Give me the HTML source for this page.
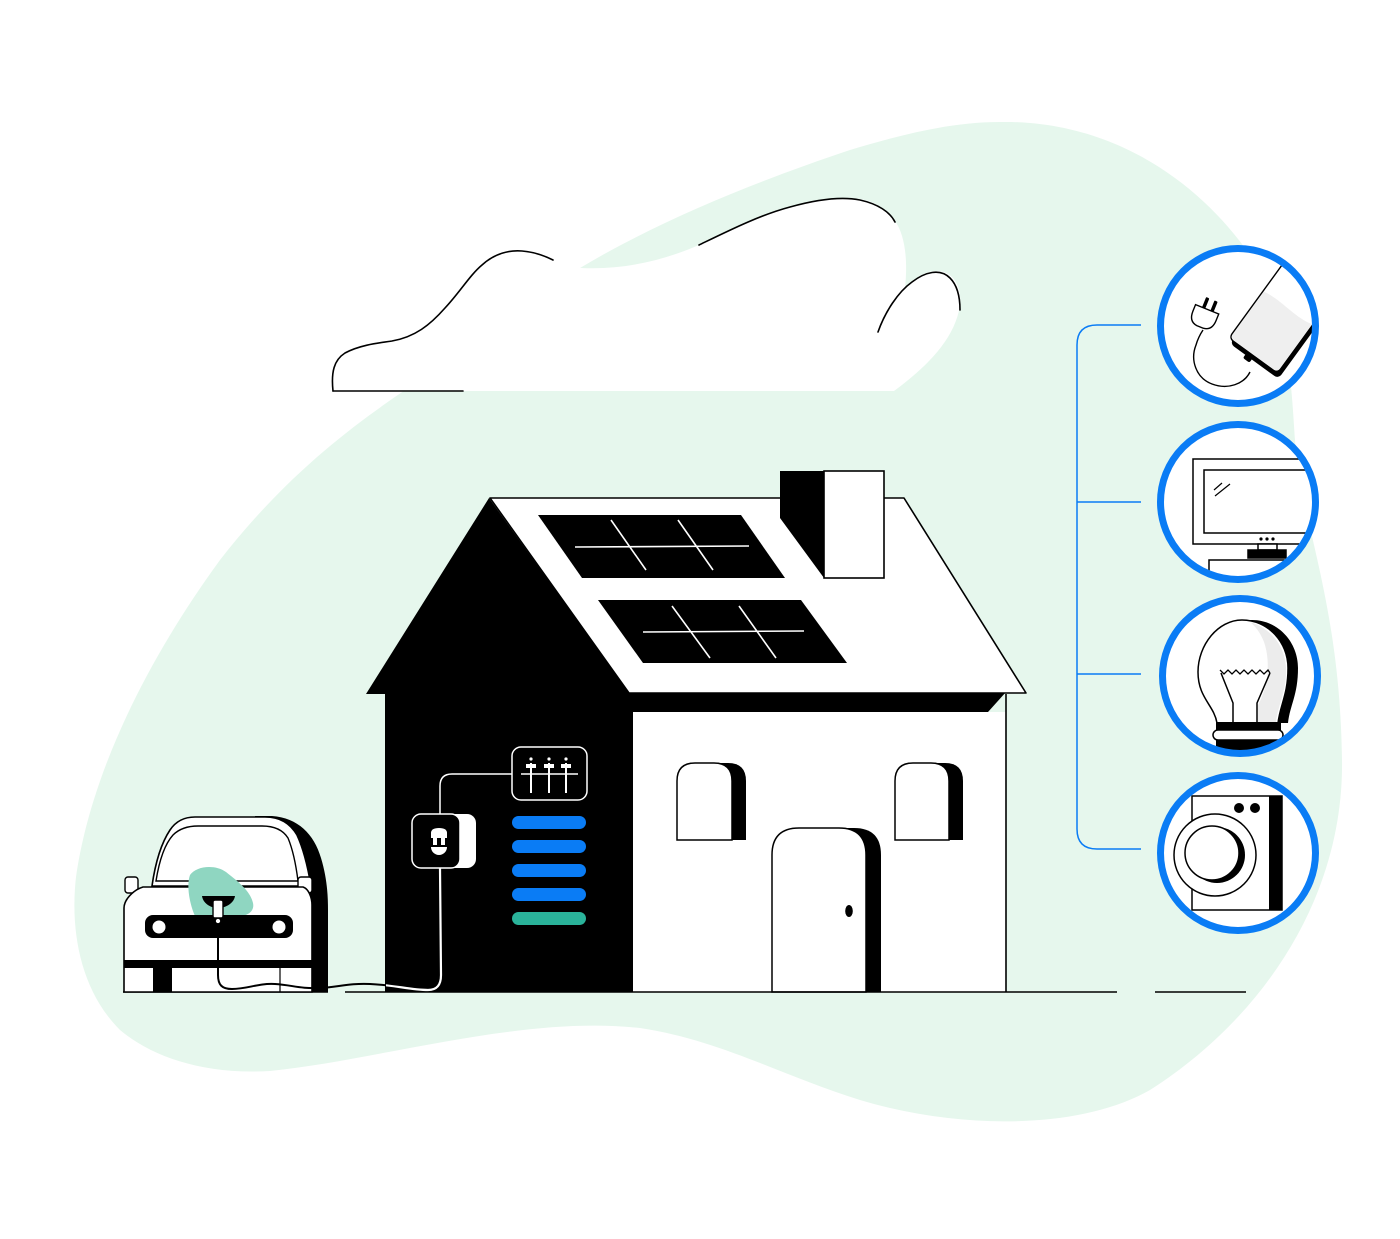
<!DOCTYPE html>
<html><head><meta charset="utf-8"><style>html,body{margin:0;padding:0;background:#fff}svg{display:block}</style></head>
<body>
<svg width="1400" height="1239" viewBox="0 0 1400 1239" xmlns="http://www.w3.org/2000/svg">
<defs>
<clipPath id="c1"><circle cx="1238" cy="326" r="75"/></clipPath>
<clipPath id="c2"><circle cx="1238" cy="502" r="75"/></clipPath>
<clipPath id="c3"><circle cx="1240" cy="676" r="75"/></clipPath>
<clipPath id="c4"><circle cx="1238" cy="853" r="75"/></clipPath>
<clipPath id="wall"><rect x="386" y="700" width="246" height="300"/></clipPath>
</defs>

<!-- background blob -->
<path d="M1000,122 C1120,120 1210,190 1260,270 C1290,320 1292,400 1295,440 C1300,520 1340,600 1342,760 C1344,900 1260,1020 1150,1090 C1080,1130 960,1130 860,1100 C780,1075 720,1040 640,1028 C520,1015 380,1060 270,1071 C200,1075 150,1055 120,1030 C80,990 70,930 76,877 C90,780 140,670 220,560 C290,470 360,420 420,380 L580,268 C660,220 760,180 850,150 C900,135 950,122 1000,122 Z" fill="#e6f7ed"/>

<!-- cloud -->
<path d="M333,391 L894,391 C925,368 955,340 960,305 C962,285 952,271 937,271 C925,271 915,278 905,288 C908,260 905,235 895,221 C880,200 860,197 838,198 C790,200 740,225 699,245 C660,262 620,270 581,268 L553,260 C540,252 530,250 520,251 C500,252 490,262 480,277 C455,315 430,340 400,345 C370,350 345,355 338,368 C333,378 333,385 333,391 Z" fill="#fff"/>
<g fill="none" stroke="#000" stroke-width="1.6" stroke-linecap="round">
<path d="M333,391 L463,391"/>
<path d="M333,391 C331,372 334,360 345,353 C360,345 378,343 392,341 C415,337 430,325 445,308 C460,292 470,275 482,265 C495,253 510,250 522,251 C535,252 545,256 553,260"/>
<path d="M699,245 C730,230 760,215 790,207 C815,200 840,196 860,200 C878,204 890,212 895,222"/>
<path d="M878,332 C885,312 898,292 912,282 C925,272 940,268 950,278 C958,286 960,298 960,310"/>
</g>

<!-- house -->
<polygon points="489,498 366,694 385,694 385,992 633,992 633,693 629,693" fill="#000"/>
<polygon points="629,692 1006,692 988,712 633,712" fill="#000"/>
<rect x="633" y="712" width="373" height="280" fill="#fff"/>
<line x1="1006" y1="694" x2="1006" y2="992" stroke="#000" stroke-width="1.6"/>
<polygon points="490,498 904,498 1026,693 629,693" fill="#fff" stroke="#000" stroke-width="1.6" stroke-linejoin="round"/>
<!-- chimney -->
<polygon points="780,471 824,471 824,578 780,518" fill="#000"/>
<rect x="824" y="471" width="60" height="107" fill="#fff" stroke="#000" stroke-width="1.6"/>
<!-- solar panels -->
<polygon points="538,515 741,515 785,578 582,578" fill="#000"/>
<g stroke="#fff" stroke-width="1.6">
<line x1="575" y1="547" x2="749" y2="546"/>
<line x1="611" y1="520" x2="646" y2="570"/>
<line x1="678" y1="520" x2="713" y2="570"/>
</g>
<polygon points="598,600 801,600 847,663 643,663" fill="#000"/>
<g stroke="#fff" stroke-width="1.6">
<line x1="643" y1="632" x2="804" y2="631"/>
<line x1="672" y1="606" x2="710" y2="658"/>
<line x1="739" y1="606" x2="776" y2="658"/>
</g>
<!-- windows -->
<path d="M691,840 L691,781 Q691,763 709,763 L728,763 Q746,763 746,781 L746,840 Z" fill="#000"/>
<path d="M677,840 L677,781 Q677,763 695,763 L714,763 Q732,763 732,781 L732,840 Z" fill="#fff" stroke="#000" stroke-width="1.5"/>
<path d="M909,840 L909,781 Q909,763 927,763 L945,763 Q963,763 963,781 L963,840 Z" fill="#000"/>
<path d="M895,840 L895,781 Q895,763 913,763 L931,763 Q949,763 949,781 L949,840 Z" fill="#fff" stroke="#000" stroke-width="1.5"/>
<!-- door -->
<path d="M786,992 L786,855 Q786,828 813,828 L854,828 Q881,828 881,855 L881,992 Z" fill="#000"/>
<path d="M772,992 L772,855 Q772,828 799,828 L839,828 Q866,828 866,855 L866,992 Z" fill="#fff" stroke="#000" stroke-width="1.5"/>
<ellipse cx="849" cy="911" rx="3.8" ry="6" fill="#000"/>

<!-- ground -->
<g stroke="#000" stroke-width="1.6">
<line x1="345" y1="992" x2="1117" y2="992"/>
<line x1="1155" y1="992" x2="1246" y2="992"/>
<line x1="123" y1="992" x2="328" y2="992"/>
</g>

<!-- control box -->
<path d="M512,774 L452,774 Q440,774 440,786 L440,814" fill="none" stroke="#fff" stroke-width="1.5"/>
<rect x="512" y="747" width="75" height="53" rx="9" fill="#000" stroke="#fff" stroke-width="1.5"/>
<g stroke="#fff" stroke-width="2" fill="#fff">
<line x1="521" y1="774" x2="578" y2="774" stroke-width="1.5"/>
<line x1="531" y1="763" x2="531" y2="793"/>
<line x1="549" y1="763" x2="549" y2="793"/>
<line x1="566" y1="763" x2="566" y2="793"/>
<rect x="526" y="764" width="10" height="4" stroke="none"/>
<rect x="544" y="764" width="10" height="4" stroke="none"/>
<rect x="561" y="764" width="10" height="4" stroke="none"/>
<circle cx="531" cy="759" r="1.6" stroke="none"/>
<circle cx="549" cy="759" r="1.6" stroke="none"/>
<circle cx="566" cy="759" r="1.6" stroke="none"/>
</g>
<!-- battery bars -->
<rect x="512" y="816" width="74" height="13" rx="6.5" fill="#0a7cf5"/>
<rect x="512" y="840" width="74" height="13" rx="6.5" fill="#0a7cf5"/>
<rect x="512" y="864" width="74" height="13" rx="6.5" fill="#0a7cf5"/>
<rect x="512" y="888" width="74" height="13" rx="6.5" fill="#0a7cf5"/>
<rect x="512" y="912" width="74" height="13" rx="6.5" fill="#2ab39a"/>

<!-- car -->
<path d="M255,816 L272,816 C298,818 314,834 321,858 C327,878 328,895 328,910 L328,992 L290,992 Z" fill="#000"/>
<path d="M152,886 C155,865 160,845 170,830 C176,821 184,817 195,817 L265,817 C280,817 290,823 297,835 C304,850 308,868 311,886 Z" fill="#fff" stroke="#000" stroke-width="1.6"/>
<path d="M156,881 C159,862 164,845 173,835 C179,829 187,826 198,826 L262,826 C274,826 283,830 288,838 C293,850 296,865 298,881 Z" fill="#fff" stroke="#000" stroke-width="1.4"/>
<rect x="125" y="877" width="13" height="16" rx="3" fill="#fff" stroke="#000" stroke-width="1.4"/>
<rect x="298" y="877" width="14" height="16" rx="3" fill="#fff" stroke="#000" stroke-width="1.4"/>
<path d="M124,992 L124,908 C124,900 133,890 143,887 L303,887 C309,889 312,898 312,905 L312,992 Z" fill="#fff" stroke="#000" stroke-width="1.6"/>
<path d="M190,875 C196,866 215,864 226,872 C236,880 250,890 253,903 C255,912 246,917 236,916 L195,916 C190,905 186,886 190,875 Z" fill="#8fd6c1"/>
<rect x="145" y="915" width="148" height="23" rx="8" fill="#000"/>
<circle cx="159" cy="927" r="6.5" fill="#fff"/>
<circle cx="279" cy="927" r="6.5" fill="#fff"/>
<rect x="124" y="960" width="188" height="8" fill="#000"/>
<rect x="153" y="968" width="19" height="24" fill="#000"/>
<line x1="280" y1="968" x2="280" y2="992" stroke="#000" stroke-width="1.2"/>
<path d="M202,896 L235,896 C234,903 226,908 218,908 C210,908 203,903 202,896 Z" fill="#000"/>
<rect x="213" y="900" width="10" height="18" rx="2" fill="#fff" stroke="#000" stroke-width="1.4"/>
<circle cx="218" cy="921" r="2.8" fill="#fff" stroke="#000" stroke-width="1.3"/>

<!-- cable -->
<path id="cab" d="M218,924 L218,975 C218,985 222,989 232,989 C248,989 258,983 275,984 C292,985 300,989 320,988 C338,987 350,983 370,984 C395,985 410,990 428,990 C437,990 441,985 441,975 L440,868" fill="none" stroke="#000" stroke-width="2"/>
<path d="M218,924 L218,975 C218,985 222,989 232,989 C248,989 258,983 275,984 C292,985 300,989 320,988 C338,987 350,983 370,984 C395,985 410,990 428,990 C437,990 441,985 441,975 L440,868" fill="none" stroke="#fff" stroke-width="2.2" clip-path="url(#wall)"/>

<!-- plug box -->
<rect x="420" y="814" width="56" height="54" rx="9" fill="#fff"/>
<rect x="412" y="814" width="48" height="54" rx="9" fill="#000" stroke="#fff" stroke-width="1.5"/>
<path d="M431,838 L431,833 Q431,828 439,828 Q447,828 447,833 L447,838 Z" fill="#fff"/>
<rect x="433" y="837" width="4" height="8" fill="#fff"/>
<rect x="441" y="837" width="4" height="8" fill="#fff"/>
<path d="M431,847 L447,847 A8,8 0 0 1 431,847 Z" fill="#fff"/>

<!-- connectors -->
<g fill="none" stroke="#0a7cf5" stroke-width="1.5">
<path d="M1141,325 L1097,325 Q1077,325 1077,345 L1077,829 Q1077,849 1097,849 L1141,849"/>
<line x1="1077" y1="502" x2="1141" y2="502"/>
<line x1="1077" y1="674" x2="1141" y2="674"/>
</g>

<!-- circle 1: phone -->
<circle cx="1238" cy="326" r="77" fill="#fff"/>
<g clip-path="url(#c1)">
<g transform="translate(1229,338) rotate(36)">
<rect x="4" y="-106" width="60" height="110" rx="5" fill="#000"/>
<rect x="0" y="-110" width="60" height="110" rx="5" fill="#fff" stroke="#000" stroke-width="1.4"/>
<path d="M1,-58 C20,-62 40,-55 59,-60 L59,-5 Q59,-1 55,-1 L5,-1 Q1,-1 1,-5 Z" fill="#efefef"/>
<rect x="23" y="0" width="8" height="8" rx="2" fill="#000"/>
</g>
<path d="M1250,372 C1244,384 1228,390 1212,384 C1196,378 1190,360 1196,345 C1198,338 1201,333 1203,330" fill="none" stroke="#000" stroke-width="1.4"/>
<g transform="translate(1202,318) rotate(22)">
<rect x="-4" y="-21" width="3.5" height="12" rx="1" fill="#000"/>
<rect x="5" y="-21" width="3.5" height="12" rx="1" fill="#000"/>
<path d="M-11,-10 L14,-10 L14,-3 Q14,8 5,9 L-2,9 Q-11,8 -11,-3 Z" fill="#fff" stroke="#000" stroke-width="1.4"/>
</g>
</g>
<circle cx="1238" cy="326" r="77.5" fill="none" stroke="#0a7cf5" stroke-width="7"/>

<!-- circle 2: TV -->
<circle cx="1238" cy="502" r="77" fill="#fff"/>
<g clip-path="url(#c2)" stroke="#000" stroke-width="1.5">
<rect x="1193" y="459" width="140" height="85" fill="#fff"/>
<rect x="1204" y="470" width="130" height="63" fill="#fff"/>
<line x1="1214" y1="490" x2="1222" y2="483" stroke-width="1.2"/>
<line x1="1215" y1="496" x2="1230" y2="484" stroke-width="1.2"/>
<circle cx="1261" cy="539" r="1.6" fill="#000" stroke="none"/>
<circle cx="1267" cy="539" r="1.6" fill="#000" stroke="none"/>
<circle cx="1273" cy="539" r="1.6" fill="#000" stroke="none"/>
<rect x="1258" y="544" width="19" height="6" fill="#fff"/>
<rect x="1248" y="550" width="38" height="8" fill="#000"/>
<rect x="1209" y="560" width="130" height="40" fill="#fff"/>
</g>
<circle cx="1238" cy="502" r="77.5" fill="none" stroke="#0a7cf5" stroke-width="7"/>

<!-- circle 3: bulb -->
<circle cx="1240" cy="676" r="77" fill="#fff"/>
<g clip-path="url(#c3)">
<path d="M1227,723 C1224,705 1208,698 1208,672 C1208,645 1228,620 1252,620 C1278,620 1298,642 1298,668 C1298,695 1290,705 1288,723 Z" fill="#000"/>
<path d="M1217,723 C1214,705 1198,698 1198,672 C1198,645 1218,620 1242,620 C1268,620 1288,642 1288,668 C1288,695 1280,705 1278,723 Z" fill="#fff" stroke="#000" stroke-width="1.5"/>
<path d="M1250,622 C1270,628 1285,645 1286,668 C1287,690 1278,705 1276,722 L1258,722 L1258,705 C1266,692 1272,665 1264,642 C1260,632 1255,626 1250,622 Z" fill="#ececec"/>
<path d="M1220,670 L1224,674 L1228,670 L1232,674 L1236,670 L1240,674 L1244,670 L1248,674 L1252,670 L1256,674 L1260,670 L1264,674 L1268,670 L1270,673" fill="none" stroke="#000" stroke-width="1.3"/>
<path d="M1221,673 L1233,703 L1233,723 M1270,673 L1257,703 L1257,723" fill="none" stroke="#000" stroke-width="1.5"/>
<rect x="1216" y="722" width="65" height="9" fill="#000"/>
<rect x="1213" y="730" width="70" height="10" rx="5" fill="#fff" stroke="#000" stroke-width="1.5"/>
<rect x="1216" y="740" width="64" height="12" fill="#000"/>
</g>
<circle cx="1240" cy="676" r="77.5" fill="none" stroke="#0a7cf5" stroke-width="7"/>

<!-- circle 4: washer -->
<circle cx="1238" cy="853" r="77" fill="#fff"/>
<g clip-path="url(#c4)">
<rect x="1192" y="796" width="90" height="114" fill="#fff" stroke="#000" stroke-width="1.5"/>
<rect x="1269" y="796" width="13" height="114" fill="#000"/>
<circle cx="1239" cy="808" r="5" fill="#000"/>
<circle cx="1255" cy="808" r="5" fill="#000"/>
<circle cx="1215" cy="855" r="41" fill="#fff" stroke="#000" stroke-width="1.5"/>
<circle cx="1217" cy="855" r="28" fill="#000"/>
<circle cx="1212" cy="853" r="27" fill="#fff" stroke="#000" stroke-width="1.5"/>
</g>
<circle cx="1238" cy="853" r="77.5" fill="none" stroke="#0a7cf5" stroke-width="7"/>
</svg>
</body></html>
